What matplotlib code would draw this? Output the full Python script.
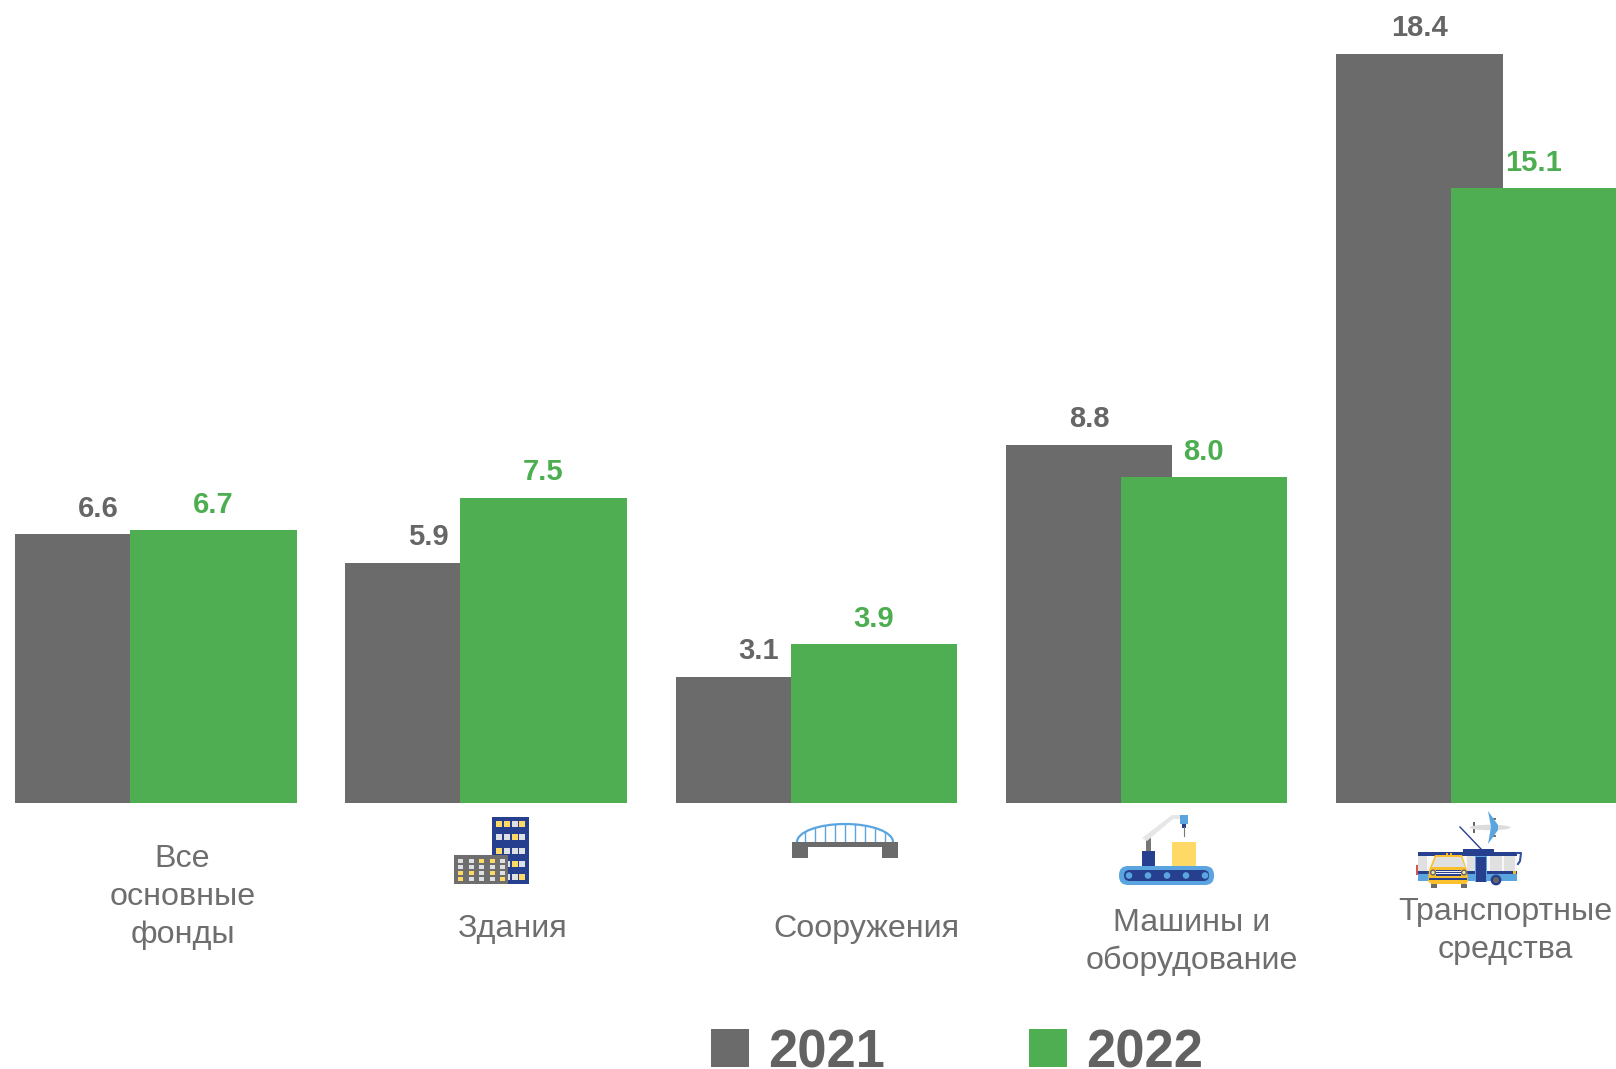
import numpy as np
import matplotlib
matplotlib.use("Agg")
import matplotlib.pyplot as plt
from matplotlib.patches import Rectangle, Polygon, FancyBboxPatch, Circle, Ellipse, Arc

categories = ["Все\nосновные\nфонды", "Здания", "Сооружения", "Машины и\nоборудование", "Транспортные\nсредства"]
series_names = ["2021", "2022"]
values_2021 = [6.6, 5.9, 3.1, 8.8, 18.4]
values_2022 = [6.7, 7.5, 3.9, 8.0, 15.1]
label_centers = [(182.5, [859, 897, 935]), (512.5, [929]), (866.5, [929]), (1191.5, [923, 961]), (1505.5, [912, 950])]

GREY = "#6b6b6b"
GREEN = "#4fae51"
TXT = "#6e6e6e"
W, H = 1616, 1069
plt.rcParams["font.family"] = ["Liberation Sans", "DejaVu Sans"]

fig = plt.figure(figsize=(W / 100, H / 100), dpi=100, facecolor="white")
ax = fig.add_axes([0, 0, 1, 1])
pitch = 330.2
x0 = 156.0
ppu = 40.7
base = 803.0
ax.set_xlim(-x0 / pitch, (W - x0) / pitch)
ax.set_ylim(-(H - base) / ppu, base / ppu)
ax.axis("off")

x = np.arange(len(categories))
bw = 166.5 / pitch
off = 57.5 / pitch
ax.bar(x - off, values_2021, bw, color=GREY, zorder=2)
ax.bar(x + off, values_2022, bw, color=GREEN, zorder=3)
for xi, v in zip(x, values_2021):
    ax.annotate(f"{v:.1f}", (xi - off, v), xytext=(0, 8.4), textcoords="offset points",
                ha="center", va="bottom", fontsize=21, fontweight="bold", color="#666666", zorder=5)
for xi, v in zip(x, values_2022):
    ax.annotate(f"{v:.1f}", (xi + off, v), xytext=(-0.5, 8.4), textcoords="offset points",
                ha="center", va="bottom", fontsize=21, fontweight="bold", color="#4cae50", zorder=5,
                annotation_clip=False)

# overlay in pixel coordinates for labels, legend and pictograms
ov = fig.add_axes([0, 0, 1, 1], facecolor="none")
ov.set_xlim(0, W)
ov.set_ylim(H, 0)
ov.axis("off")

for cat, (cx, ys) in zip(categories, label_centers):
    for line, y in zip(cat.split("\n"), ys):
        ov.text(cx, y, line, ha="center", va="center", fontsize=23.2, color=TXT)

ov.add_patch(Rectangle((711, 1029), 38, 38, color=GREY, lw=0))
ov.add_patch(Rectangle((1029, 1029), 38, 38, color=GREEN, lw=0))
ov.text(768, 1067, series_names[0], ha="left", va="baseline", fontsize=37.8, fontweight="bold", color="#626262")
ov.text(1086, 1067, series_names[1], ha="left", va="baseline", fontsize=37.8, fontweight="bold", color="#626262")

NAVY = "#26408f"
YEL = "#ffd966"
SKY = "#5aa5e0"
LIGHT = "#dfe0e4"
def R(x, y, w, h, c, z=6):
    ov.add_patch(Rectangle((x, y), w, h, facecolor=c, edgecolor="none", zorder=z))

# buildings
R(492, 817, 37, 67, NAVY)
tower = ["YYWY", "WWYW", "YWWW", "WWYW", "WWWY"]
for ry, row in zip([824, 837, 851, 864, 877], tower):
    for cxp, s in zip([499, 507, 515, 522], row):
        R(cxp - 2.8, ry - 2.8, 5.6, 5.6, YEL if s == "Y" else LIGHT, 7)
R(454, 855, 54, 29, "#6e6e6e", 8)
block = ["WWYYW", "WWWWW", "YYWYW", "YWWWY"]
for ry, row in zip([861, 867, 873, 879], block):
    for cxp, s in zip([460, 471, 481, 492, 502], row):
        R(cxp - 2.5, ry - 2, 5, 4, YEL if s == "Y" else LIGHT, 9)

# bridge
R(792, 842, 106, 5, GREY)
R(792, 847, 16, 11, GREY)
R(882, 847, 16, 11, GREY)
ov.add_patch(Arc((845, 842), 96, 36, theta1=180, theta2=360, color=SKY, lw=1.6, zorder=6))
for dx in np.arange(-40, 41, 10):
    ytop = 842 - 18 * np.sqrt(1 - (dx / 48) ** 2)
    ov.plot([845 + dx, 845 + dx], [ytop, 842], color=SKY, lw=1, zorder=5)

# conveyor
ov.add_patch(FancyBboxPatch((1119, 866), 95, 19, boxstyle="round,pad=0,rounding_size=9",
                            facecolor=SKY, edgecolor="none", zorder=6))
ov.add_patch(FancyBboxPatch((1124, 870), 85, 11, boxstyle="round,pad=0,rounding_size=5.5",
                            facecolor=NAVY, edgecolor="none", zorder=7))
for cxp in [1129, 1148, 1167, 1186, 1205]:
    ov.add_patch(Circle((cxp, 875.5), 3.3, facecolor=SKY, edgecolor="none", zorder=8))
R(1172, 842, 24, 24, YEL)
R(1142, 851, 13, 15, NAVY)
R(1146, 838, 5, 13, "#777777")
ov.add_patch(Polygon([[1142, 838], [1172, 815], [1180, 815], [1180, 819], [1173, 819], [1147, 841]],
                     closed=True, facecolor="#e6e6e6", edgecolor="none", zorder=6))
R(1180, 815, 8, 9, SKY)
R(1182, 824, 4, 3.5, NAVY)
ov.plot([1184, 1184], [827, 836], color="#777777", lw=0.8, zorder=6)

# transport: trolleybus
R(1418, 852, 99, 29, "#f7f7f7")
R(1418, 852, 99, 4, NAVY, 7)
R(1416, 865, 2, 10, "#d9534f", 7)
for xw, ww in [(1418, 9), (1467, 8), (1490, 12), (1504, 11)]:
    R(xw, 856, ww, 15, "#e0e0e0", 7)
R(1418, 871, 99, 2.5, NAVY, 7)
R(1418, 873.5, 99, 7.5, SKY, 7)
R(1513, 871, 3, 3, "#f5b921", 8)
ov.plot([1517, 1521, 1520, 1518], [853, 853, 861, 864], color="#33509e", lw=1.5, zorder=7)
R(1475, 856, 12, 26, SKY, 8)
R(1476, 857, 10, 25, NAVY, 9)
R(1480.6, 857, 0.8, 25, SKY, 10)
R(1463, 849, 31, 4, NAVY, 7)
ov.plot([1460, 1481], [827, 849], color=NAVY, lw=1, zorder=6)
ov.add_patch(Circle((1496, 880), 5.4, facecolor=NAVY, edgecolor="none", zorder=9))
ov.add_patch(Circle((1496, 880), 3, facecolor="#666666", edgecolor="none", zorder=10))
# taxi
R(1431, 884, 6, 3.5, GREY, 10)
R(1461, 884, 6, 3.5, GREY, 10)
ov.add_patch(Polygon([[1435, 855], [1462, 855], [1467, 870], [1468, 881], [1466, 884], [1431, 884], [1428, 881], [1429, 870]],
                     closed=True, facecolor="#fcc02d", edgecolor="none", zorder=11))
ov.add_patch(Polygon([[1436, 857], [1461, 857], [1465, 867], [1432, 867]], closed=True,
                     facecolor="#e0e0e0", edgecolor="none", zorder=12))
R(1446, 852.5, 1.5, 2.5, "#f5b921", 11)
R(1450, 852.5, 1.5, 2.5, "#f5b921", 11)
R(1436, 869.5, 25, 6, NAVY, 12)
for yy in [870.8, 873]:
    R(1436, yy, 25, 1, "#f2f2f2", 13)
for cxp in [1433, 1464]:
    ov.add_patch(Circle((cxp, 872.5), 3, facecolor="#5b5b6b", edgecolor="none", zorder=12))
    ov.add_patch(Circle((cxp, 872.5), 1.7, facecolor="#f7e3a1", edgecolor="none", zorder=13))
R(1429, 878, 38, 2.2, NAVY, 12)
# plane
ov.add_patch(Ellipse((1490, 827.5), 41, 5.5, facecolor="#dcdcdc", edgecolor="none", zorder=6))
ov.add_patch(Polygon([[1472.5, 822], [1475, 822], [1475, 833], [1472.5, 833]], closed=True,
                     facecolor="#666666", edgecolor="none", zorder=5))
ov.add_patch(Polygon([[1488, 811], [1498, 825], [1498, 830], [1488, 844], [1491, 827]], closed=True,
                     facecolor=SKY, edgecolor="none", zorder=7))
R(1493, 818, 3, 2, "#777777", 5)
R(1493, 835, 3, 2, "#777777", 5)

fig.savefig("out.png", dpi=100, facecolor="white")
